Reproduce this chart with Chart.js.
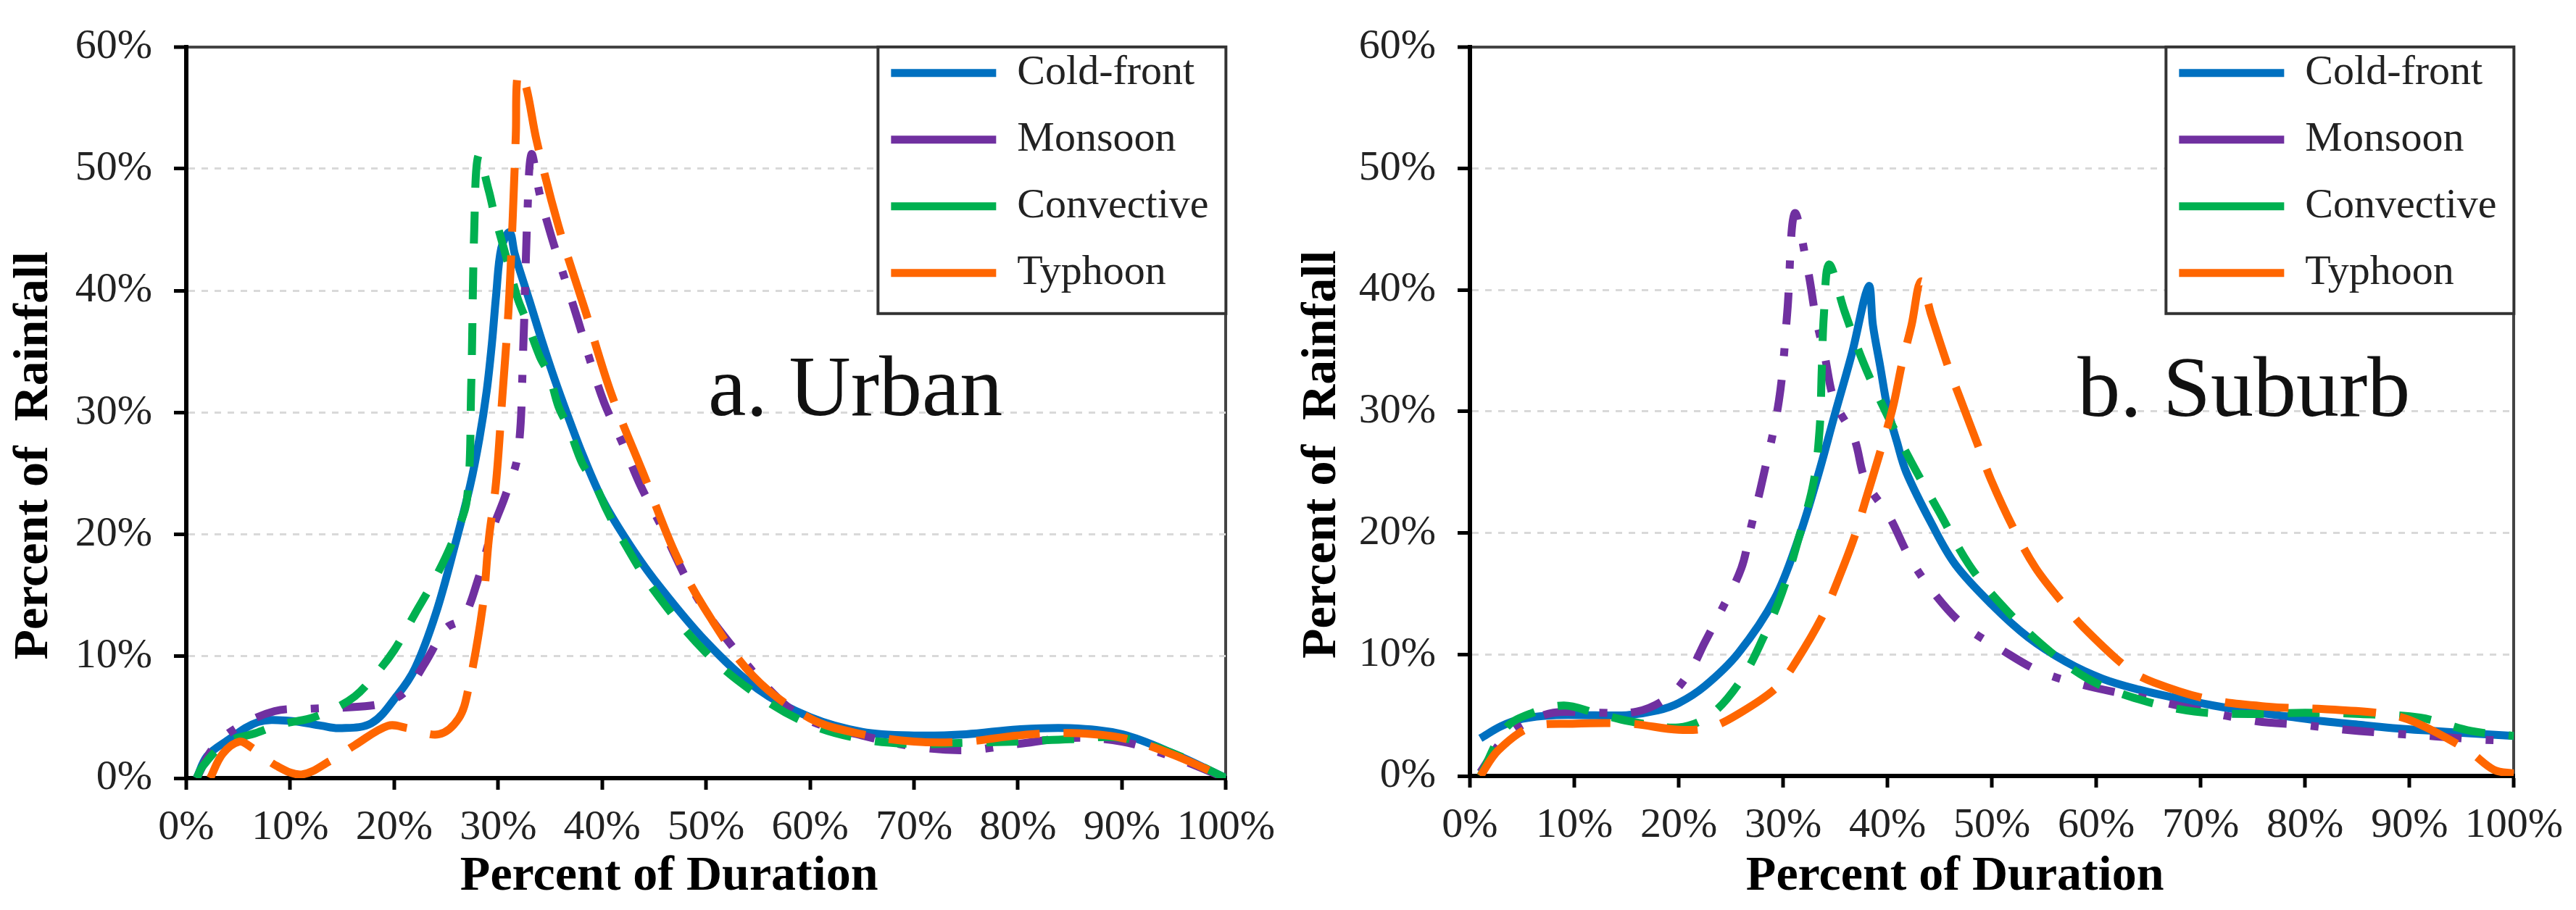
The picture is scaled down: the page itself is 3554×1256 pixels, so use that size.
<!DOCTYPE html>
<html>
<head>
<meta charset="utf-8">
<script src="https://cdn.jsdelivr.net/npm/chart.js@4.4.1/dist/chart.umd.min.js"></script>
<style>
html,body{margin:0;padding:0;background:#ffffff;overflow:hidden;}
#wrap{position:relative;width:3554px;height:1256px;background:#ffffff;}
canvas{position:absolute;top:0;}
</style>
</head>
<body>
<div id="wrap">
<canvas id="urban" width="1777" height="1256" style="left:0;width:1777px;height:1256px"></canvas>
<canvas id="suburb" width="1777" height="1256" style="left:1777px;width:1777px;height:1256px"></canvas>
</div>
<script>
// ---------- data ----------
const seriesNames = ['Cold-front', 'Monsoon', 'Convective', 'Typhoon'];
const xTickLabels = ['0%','10%','20%','30%','40%','50%','60%','70%','80%','90%','100%'];
const yTickLabels = ['0%','10%','20%','30%','40%','50%','60%'];
const xAxisTitle = 'Percent of Duration';
const yAxisTitle = 'Percent of  Rainfall';
const urbanPanelLabel = 'a. Urban';
const suburbPanelLabel = 'b. Suburb';

// [percent of duration, percent of rainfall]
const urbanColdFront = [[1,0],[2,1.8],[3.8,3],[6.9,4.6],[10,4.7],[13,4.3],[14.7,4.1],[17.8,4.5],[20.3,6.8],[22,9],[24,13.5],[25.9,19.3],[27.3,24],[28.2,27.9],[28.9,31.8],[29.4,35.7],[29.8,39.6],[30.3,43.5],[31.1,44.8],[31.6,43],[33,39.2],[34.2,35.9],[35.4,32.8],[36.8,29.5],[38.1,26.6],[40,22.9],[42.3,19.6],[45,16.3],[50,11.2],[55,7.3],[60,5],[65,3.8],[70,3.5],[75,3.6],[80,4],[85,4.1],[90,3.6],[95,2],[100,0]];
const urbanMonsoon = [[1,0],[2.6,2.5],[4.8,4.1],[8.5,5.5],[12,5.7],[17.2,5.9],[19.5,6.3],[21.2,7.2],[23,9.5],[25,12.3],[26.6,13.1],[28.1,16.4],[29.5,20.5],[30.7,23.2],[31.9,26.6],[32.4,35],[32.8,46],[33.2,51.2],[34,47.9],[35.1,44.5],[36.4,41],[37.7,37.5],[38.9,34.1],[40.2,30.8],[42,27.4],[43.7,24],[45.5,21],[49,15],[53,10.3],[57,6.5],[60,4.7],[65,3.5],[70,2.6],[75,2.3],[80,2.8],[85,3.3],[90,3],[95,1.7],[100,0]];
const urbanConvective = [[1,0],[1.6,1],[3.8,2.9],[6.7,3.7],[9,4.4],[11.9,4.9],[14,5.6],[16.2,6.7],[18,8.3],[20,10.5],[22,13.5],[24,16.5],[25.8,19.8],[27,22.9],[27.4,32],[27.7,45],[28.1,51.1],[29.1,48.2],[29.6,46.4],[30.7,43],[31.9,39.3],[32.6,37.8],[34,34.6],[34.9,33.1],[35.8,30.5],[36.8,28.7],[38.1,25.8],[39.1,24.5],[40.5,21.9],[42,19.5],[45,15.4],[50,10.3],[55,6.8],[60,4.4],[65,3.2],[70,2.8],[75,2.9],[80,3],[85,3.2],[90,3.3],[95,2],[100,0]];
const urbanTyphoon = [[2.3,0],[3.5,2],[5.1,3],[6.3,2.5],[8.7,1],[11.1,0.3],[13.8,1.4],[16.2,2.7],[19.4,4.3],[21.3,4.1],[24.3,3.6],[26.2,4.9],[27.1,7.2],[28.5,14],[29.1,19.6],[29.8,24.3],[30.4,31.3],[31,38.5],[31.4,46],[31.7,52.8],[31.9,57.8],[32.6,57],[33.7,52.3],[35.8,45.3],[38.4,38.3],[40.9,31.5],[44.1,24.7],[47,18.5],[49.8,14],[54.5,8.4],[60,4.9],[65,3.6],[70,3],[75,3],[80,3.5],[85,3.7],[90,3.3],[95,1.9],[100,0]];

const suburbColdFront = [[1,3.1],[3,4.1],[5,4.7],[8,5],[12,5],[15,5],[18,5.4],[20,6],[22.5,7.4],[25.7,10.1],[29.2,14.6],[31.5,19.6],[33.3,24.6],[34.9,29.6],[36.6,34.8],[38.2,40.3],[38.6,37.1],[39.3,33.7],[40,30.3],[40.9,27.5],[41.8,25],[44.2,20.8],[46.5,17.4],[50,14.1],[53.5,11.4],[57.1,9.4],[60.6,8],[64.1,7.1],[67.7,6.4],[71.2,5.8],[74.7,5.3],[78.3,4.9],[81.8,4.5],[85.3,4.2],[88.9,3.9],[92.4,3.7],[95.9,3.5],[100,3.3]];
const suburbMonsoon = [[1,0.3],[3,2.8],[5,4.2],[8,5.2],[12,5.2],[16,5.3],[19,6.5],[21,8.5],[22.5,11],[24,13.5],[26,17.1],[26.9,20.4],[27.9,23.9],[29.6,30.9],[30.4,38.2],[31.1,46.3],[32.4,41.5],[33.1,37.9],[34,34.5],[34.9,30.9],[36.8,27.8],[37.9,24.3],[40.2,21.3],[42.1,18],[44.4,15.1],[47.3,12.4],[50.9,10.4],[54.6,8.6],[58.7,7.5],[64.1,6.5],[69.4,5.5],[75.4,4.5],[79.7,4.2],[83.9,3.8],[88.2,3.5],[92,3.3],[96.6,3],[100,2.9]];
const suburbConvective = [[1,0],[3.5,4],[6,5.2],[9,5.8],[12,5.2],[15.3,4.5],[20,4],[23,5],[25.9,7.8],[28,11.2],[29.9,15.1],[31.5,19.6],[32.9,24.1],[33.5,28.6],[33.7,33.4],[33.9,37.9],[34.4,42.1],[35.9,38.2],[37.7,34],[39.8,30],[42.3,25.8],[44.9,21.8],[47.8,17.4],[50.9,14.1],[54.8,10.8],[59.2,8],[64.1,6.3],[69.4,5.3],[74.7,5.1],[80,5.2],[85.3,5.1],[91,4.8],[95.9,3.7],[100,3.3]];
const suburbTyphoon = [[1,0],[2.7,2.1],[5.8,4],[9.8,4.3],[15.3,4.3],[20,3.8],[23,4],[25.7,5.1],[29.4,7.3],[31.3,9.5],[33.8,13.2],[35.2,16],[36.8,19.6],[37.9,22.7],[39.1,26.1],[40.5,30.3],[41.4,34],[42.3,37.1],[43.2,40.7],[44.2,37.9],[45.8,33.7],[46.9,31.2],[48.8,26.9],[49.9,24.4],[52,20.5],[54.2,17.1],[57.1,13.9],[58.8,12.2],[63.1,8.8],[65.5,7.7],[70.8,6.3],[76.5,5.7],[81.8,5.5],[87.8,5.1],[90.6,4.4],[95.6,2.1],[98.1,0.5],[100,0.2]];

// ---------- styles ----------
const FONT = '"Liberation Serif", "Times New Roman", serif';
const seriesColors = ['#0070C0', '#7030A0', '#00B050', '#FF6600'];
const seriesDashes = [[], [44, 33, 11, 33], [44, 33], [88, 33]];
const LINE_W = 11;
const LEGEND_BOX_W = 480;
const LEGEND_BOX_H = 368;
// trailing blanks move the centred axis titles to where the original has them
const X_TITLE_SHIFT = '      ';
const Y_TITLE_SHIFT = '       ';

Chart.defaults.font.family = FONT;

const decorPlugin = {
  id: 'decor',
  beforeLayout(chart) {
    const lg = chart.legend;
    if (!lg || lg._boxedLayer) return;
    lg._boxedLayer = true;
    lg._layers = function () {
      return [{
        z: 1,
        draw(ca) {
          const ctx = chart.ctx;
          const a = chart.chartArea;
          ctx.save();
          ctx.fillStyle = '#ffffff';
          ctx.fillRect(a.right - LEGEND_BOX_W, a.top, LEGEND_BOX_W, LEGEND_BOX_H);
          ctx.restore();
          lg.draw(ca);
          ctx.save();
          ctx.strokeStyle = '#333333';
          ctx.lineWidth = 4;
          ctx.strokeRect(a.right - LEGEND_BOX_W, a.top, LEGEND_BOX_W, LEGEND_BOX_H);
          ctx.restore();
        }
      }];
    };
  },
  afterLayout(chart) {
    const lg = chart.legend;
    const a = chart.chartArea;
    if (!lg) return;
    const w = lg.width, h = lg.height;
    lg.left = a.right - LEGEND_BOX_W - 16;
    lg.right = lg.left + w;
    lg.top = a.top - 27;
    lg.bottom = lg.top + h;
  },
  afterDraw(chart) {
    const ctx = chart.ctx;
    const o = chart.options.plugins.decor;
    ctx.save();
    ctx.fillStyle = '#111111';
    ctx.font = '118px ' + FONT;
    ctx.textAlign = 'left';
    ctx.textBaseline = 'middle';
    ctx.fillText(o.label, chart.scales.x.getPixelForValue(o.labelX), chart.scales.y.getPixelForValue(o.labelY));
    ctx.restore();
  }
};

function buildChart(id, series, label, labelX, labelY, geo) {
  const datasets = series.map((pts, i) => ({
    label: seriesNames[i],
    data: pts.map(p => ({x: p[0], y: p[1]})),
    borderColor: seriesColors[i],
    backgroundColor: seriesColors[i],
    borderWidth: LINE_W,
    borderDash: seriesDashes[i],
    borderCapStyle: 'butt',
    borderJoinStyle: 'round',
    pointRadius: 0,
    pointHoverRadius: 0,
    tension: 0.35,
    fill: false,
    order: series.length - i
  }));
  return new Chart(document.getElementById(id), {
    type: 'line',
    data: { datasets },
    plugins: [decorPlugin],
    options: {
      responsive: false,
      animation: false,
      devicePixelRatio: 1,
      events: [],
      layout: { padding: { left: 0, top: geo.top, right: 1777 - geo.right, bottom: 0 } },
      scales: {
        x: {
          type: 'linear', min: 0, max: 100,
          ticks: {
            stepSize: 10, autoSkip: false, maxRotation: 0,
            callback: (v, i) => xTickLabels[i],
            font: { family: FONT, size: 58 }, color: '#222222', padding: 18
          },
          grid: {
            drawOnChartArea: true,
            color: c => (c.tick && c.tick.value === 100) ? '#444444' : 'rgba(0,0,0,0)',
            lineWidth: 4,
            tickColor: '#000000', tickWidth: 5, tickLength: 16
          },
          border: { color: '#000000', width: 6 },
          title: {
            display: true, text: xAxisTitle + X_TITLE_SHIFT, color: '#000000',
            font: { family: FONT, size: 68, weight: 'bold' },
            padding: { top: 0, bottom: 5 }
          },
          afterFit: s => { s.height = 1256 - geo.bottom; }
        },
        y: {
          type: 'linear', min: 0, max: 60,
          ticks: {
            stepSize: 10,
            callback: (v, i) => yTickLabels[i],
            font: { family: FONT, size: 58 }, color: '#222222', padding: 30
          },
          grid: {
            color: c => {
              const v = c.tick ? c.tick.value : null;
              if (v === 60) return '#444444';
              if (v === 0) return 'rgba(0,0,0,0)';
              return '#D9D9D9';
            },
            lineWidth: c => (c.tick && c.tick.value === 60) ? 4 : 3,
            tickColor: '#000000', tickWidth: 5, tickLength: 17
          },
          border: {
            color: '#000000', width: 6,
            dash: c => (c.tick && c.tick.value === 60) ? [] : [9, 9]
          },
          title: {
            display: true, text: yAxisTitle + Y_TITLE_SHIFT, color: '#000000',
            font: { family: FONT, size: 68, weight: 'bold' },
            padding: { top: 7, bottom: 0 }
          },
          afterFit: s => { s.width = geo.left; }
        }
      },
      plugins: {
        tooltip: { enabled: false },
        legend: {
          position: 'chartArea',
          align: 'start',
          labels: {
            usePointStyle: true,
            pointStyle: 'line',
            pointStyleWidth: 145,
            padding: 34,
            color: '#222222',
            font: { family: FONT, size: 58 },
            sort: (a, b) => a.datasetIndex - b.datasetIndex
          }
        },
        decor: { label, labelX, labelY }
      }
    }
  });
}

buildChart('urban', [urbanColdFront, urbanMonsoon, urbanConvective, urbanTyphoon],
  urbanPanelLabel, 50.2, 31.6, { left: 257, top: 46, right: 1698, bottom: 1074 });
buildChart('suburb', [suburbColdFront, suburbMonsoon, suburbConvective, suburbTyphoon],
  suburbPanelLabel, 58.2, 31.5, { left: 251, top: 51, right: 1697, bottom: 1071 });
</script>
</body>
</html>
